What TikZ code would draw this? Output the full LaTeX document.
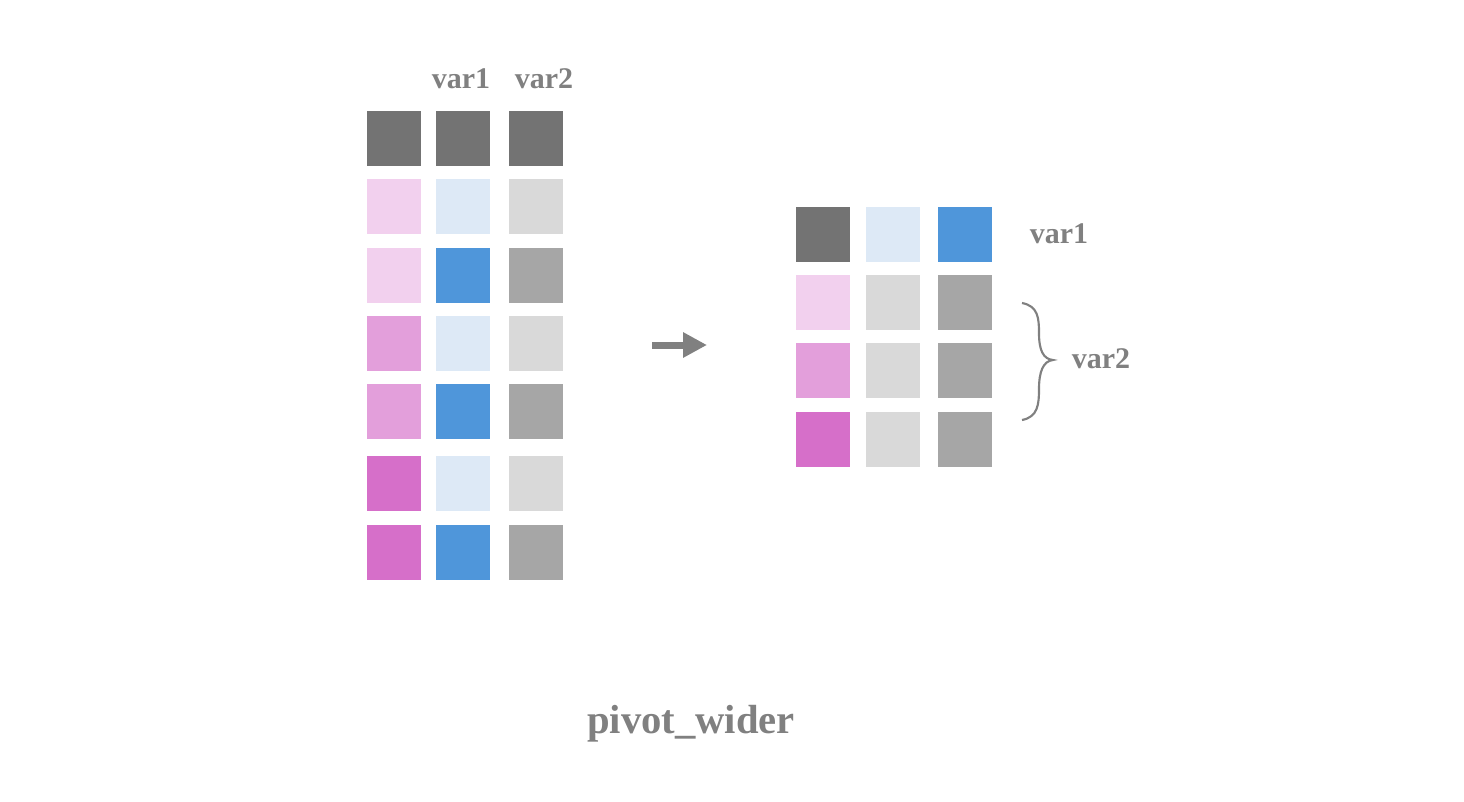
\documentclass[tikz,border=0pt]{standalone}
\usepackage{fontspec}
\setmainfont{Liberation Serif}[BoldFont={Liberation Serif Bold}]
\usepackage{xcolor}
\usepackage{tikz}
\usetikzlibrary{
    arrows.meta
}
\definecolor{darkg}{HTML}{737373}
\definecolor{midg}{HTML}{A6A6A6}
\definecolor{lightg}{HTML}{D9D9D9}
\definecolor{lightb}{HTML}{DDE9F6}
\definecolor{blue1}{HTML}{4F96DA}
\definecolor{pink1}{HTML}{F2D0EE}
\definecolor{pink2}{HTML}{E39FDB}
\definecolor{pink3}{HTML}{D66FC9}
\definecolor{txt}{HTML}{808080}

\begin{document}
\begin{tikzpicture}[x=0.75pt,y=-0.75pt,>={Triangle[length=18pt,width=18pt]}]
    \tikzstyle{cell}=[minimum size=41pt, inner sep=0pt, outer sep=0pt]
    \tikzstyle{lbl}=[text=txt, font=\fontsize{22.5}{27}\selectfont\bfseries, anchor=base, inner sep=0pt]
    \useasboundingbox (0,0) rectangle (1464,801);
    % long table
    \node[lbl] (hv1) at (461, 88){var1};
    \node[lbl] (hv2) at (544, 88){var2};
    \node[cell, fill=darkg] (a1) at (394, 138.5){};
    \node[cell, fill=darkg] (b1) at (463, 138.5){};
    \node[cell, fill=darkg] (c1) at (536, 138.5){};
    \node[cell, fill=pink1] (a2) at (394, 206.5){};
    \node[cell, fill=lightb] (b2) at (463, 206.5){};
    \node[cell, fill=lightg] (c2) at (536, 206.5){};
    \node[cell, fill=pink1] (a3) at (394, 275.5){};
    \node[cell, fill=blue1] (b3) at (463, 275.5){};
    \node[cell, fill=midg] (c3) at (536, 275.5){};
    \node[cell, fill=pink2] (a4) at (394, 343.5){};
    \node[cell, fill=lightb] (b4) at (463, 343.5){};
    \node[cell, fill=lightg] (c4) at (536, 343.5){};
    \node[cell, fill=pink2] (a5) at (394, 411.5){};
    \node[cell, fill=blue1] (b5) at (463, 411.5){};
    \node[cell, fill=midg] (c5) at (536, 411.5){};
    \node[cell, fill=pink3] (a6) at (394, 483.5){};
    \node[cell, fill=lightb] (b6) at (463, 483.5){};
    \node[cell, fill=lightg] (c6) at (536, 483.5){};
    \node[cell, fill=pink3] (a7) at (394, 552.5){};
    \node[cell, fill=blue1] (b7) at (463, 552.5){};
    \node[cell, fill=midg] (c7) at (536, 552.5){};
    % arrow
    \coordinate (from) at (652, 345);
    \coordinate (to) at (707, 345);
    \draw[->, draw=txt, fill=txt, line width=5.25pt] (from) -- (to);
    % wide table
    \node[cell, fill=darkg] (w1) at (823, 234.5){};
    \node[cell, fill=lightb] (x1) at (893, 234.5){};
    \node[cell, fill=blue1] (y1) at (965, 234.5){};
    \node[cell, fill=pink1] (w2) at (823, 302.5){};
    \node[cell, fill=lightg] (x2) at (893, 302.5){};
    \node[cell, fill=midg] (y2) at (965, 302.5){};
    \node[cell, fill=pink2] (w3) at (823, 370.5){};
    \node[cell, fill=lightg] (x3) at (893, 370.5){};
    \node[cell, fill=midg] (y3) at (965, 370.5){};
    \node[cell, fill=pink3] (w4) at (823, 439.5){};
    \node[cell, fill=lightg] (x4) at (893, 439.5){};
    \node[cell, fill=midg] (y4) at (965, 439.5){};
    \node[lbl] (rv1) at (1059, 243){var1};
    \draw[draw=txt, line width=1.6pt] (1022, 303) .. controls (1038, 306) and (1039, 318) .. (1039, 333)
        .. controls (1039, 350) and (1043, 359) .. (1053, 360)
        .. controls (1043, 361) and (1039, 372) .. (1039, 389)
        .. controls (1039, 404) and (1038, 417) .. (1022, 420);
    \node[lbl] (rv2) at (1101, 368){var2};
    \node[lbl, font=\fontsize{30.5}{36}\selectfont\bfseries] (title) at (691, 733){pivot\_wider};
    \end{tikzpicture}
\end{document}
